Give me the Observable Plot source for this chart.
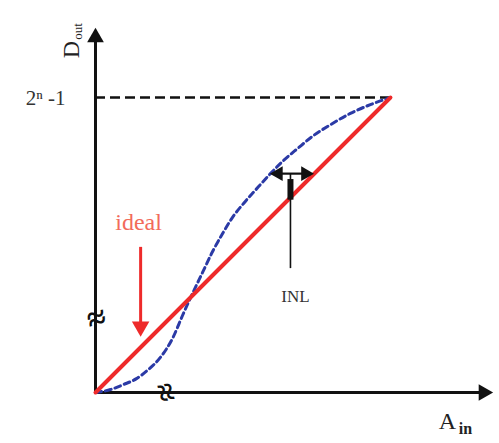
<!DOCTYPE html>
<html>
<head>
<meta charset="utf-8">
<script src="https://cdn.jsdelivr.net/npm/d3@7"></script>
<script src="https://cdn.jsdelivr.net/npm/@observablehq/plot@0.6"></script>
<style>
  html, body { margin: 0; padding: 0; background: #fff; }
  svg { display: block; }
</style>
</head>
<body>
<div id="chart"></div>
<script>
// Normalised transfer characteristic: input A_in (x) vs output D_out (y), full scale = 1
const axisMaxX = 1.346;
const axisMaxY = 1.234;
const fullScale = 1;

// ideal transfer line
const idealX = [0, 1];
const idealY = [0, 1];

const realX = [0, 0.051, 0.095, 0.139, 0.176, 0.220, 0.261, 0.295, 0.329, 0.363, 0.397, 0.431, 0.464, 0.502, 0.553, 0.593, 0.637, 0.685, 0.739, 0.797, 0.864, 0.932, 1];
const realY = [0, 0.010, 0.027, 0.047, 0.075, 0.119, 0.183, 0.261, 0.336, 0.407, 0.478, 0.539, 0.593, 0.641, 0.698, 0.742, 0.786, 0.827, 0.871, 0.908, 0.946, 0.976, 1];

// INL annotation
const inlY = 0.742;
const inlFrom = 0.593;
const inlTo = 0.739;
const inlStemX = 0.661;
const inlStemBottom = 0.42;
const inlLabel = {x: 0.678, y: 0.325, text: "INL"};

// "ideal" annotation
const idealLabel = {x: 0.146, y: 0.576, text: "ideal"};
const idealArrowX = 0.153;
const idealArrowTop = 0.492;
const idealArrowTip = 0.193;

// axis break positions
const breakY = 0.251;
const breakX = 0.237;

const fullScaleLabel = "2ⁿ -1";

const ideal = idealX.map((x, i) => ({x, y: idealY[i]}));
const real = realX.map((x, i) => ({x, y: realY[i]}));

const serif = "Liberation Serif, Times New Roman, serif";

const plot = Plot.plot({
  width: 499,
  height: 443,
  marginLeft: 95,
  marginRight: 7,
  marginTop: 28,
  marginBottom: 51,
  style: {fontFamily: serif, background: "white"},
  x: {domain: [0, axisMaxX], axis: null},
  y: {domain: [0, axisMaxY], axis: null},
  marks: [
    // full-scale dashed level
    Plot.ruleY([fullScale], {x1: 0, x2: fullScale, stroke: "#111", strokeWidth: 2.4, strokeDasharray: "10,5"}),
    // axes
    Plot.ruleX([0], {y1: 0, y2: axisMaxY - 0.03, stroke: "#111", strokeWidth: 3}),
    Plot.ruleY([0], {x1: 0, x2: axisMaxX - 0.03, stroke: "#111", strokeWidth: 3}),
    Plot.dot([{x: 0, y: axisMaxY}], {x: "x", y: "y", symbol: "triangle", r: 6.2, fill: "#111", stroke: "none", dy: 9}),
    Plot.dot([{x: axisMaxX, y: 0}], {x: "x", y: "y", symbol: "triangle", r: 6.2, fill: "#111", stroke: "none", rotate: 90, dx: -9}),
    // axis breaks
    Plot.text([{x: 0, y: breakY}], {x: "x", y: "y", text: () => "≈", fontSize: 34, fontWeight: "bold", fill: "#111", rotate: -15, dx: 1}),
    Plot.text([{x: breakX, y: 0}], {x: "x", y: "y", text: () => "≈", fontSize: 34, fontWeight: "bold", fill: "#111", rotate: 75}),
    // real curve
    Plot.line(real, {x: "x", y: "y", curve: "monotone-x", stroke: "#2b3aa6", strokeWidth: 3, strokeDasharray: "6,4"}),
    // ideal line
    Plot.line(ideal, {x: "x", y: "y", stroke: "#ee2a2a", strokeWidth: 4}),
    // INL double arrow
    Plot.ruleY([inlY], {x1: inlFrom + 0.03, x2: inlTo - 0.03, stroke: "#111", strokeWidth: 2.2}),
    Plot.dot([{x: inlFrom, y: inlY}], {x: "x", y: "y", symbol: "triangle", r: 5.5, fill: "#111", stroke: "none", rotate: -90, dx: 8}),
    Plot.dot([{x: inlTo, y: inlY}], {x: "x", y: "y", symbol: "triangle", r: 5.5, fill: "#111", stroke: "none", rotate: 90, dx: -8}),
    Plot.ruleX([inlStemX], {y1: inlStemBottom, y2: inlY, stroke: "#111", strokeWidth: 1.6}),
    Plot.ruleX([inlStemX], {y1: inlY - 0.09, y2: inlY - 0.02, stroke: "#111", strokeWidth: 6}),
    Plot.text([inlLabel], {x: "x", y: "y", text: "text", fontSize: 17, fill: "#333", fontFamily: serif}),
    // ideal label and arrow
    Plot.text([idealLabel], {x: "x", y: "y", text: "text", fontSize: 24, fill: "#f26b5b", fontFamily: serif}),
    Plot.ruleX([idealArrowX], {y1: idealArrowTop, y2: idealArrowTip + 0.04, stroke: "#ee2a2a", strokeWidth: 3}),
    Plot.dot([{x: idealArrowX, y: idealArrowTip}], {x: "x", y: "y", symbol: "triangle", r: 6.5, fill: "#ee2a2a", stroke: "none", rotate: 180, dy: -9}),
    // tick label for full scale
    Plot.text([{x: 0, y: fullScale}], {x: "x", y: "y", text: () => fullScaleLabel, textAnchor: "end", dx: -30, dy: 1, fontSize: 21, fill: "#333", fontFamily: serif}),
    // axis titles
    Plot.text([{x: 0, y: axisMaxY}], {x: "x", y: "y", text: () => "D", rotate: -90, dx: -24, dy: 21, fontSize: 24, fill: "#222", fontFamily: serif}),
    Plot.text([{x: 0, y: axisMaxY}], {x: "x", y: "y", text: () => "out", rotate: -90, dx: -18, dy: 3, fontSize: 13, fill: "#222", fontFamily: serif}),
    Plot.text([{x: axisMaxX, y: 0}], {x: "x", y: "y", text: () => "A", dx: -45, dy: 29, fontSize: 24, fill: "#222", fontFamily: serif}),
    Plot.text([{x: axisMaxX, y: 0}], {x: "x", y: "y", text: () => "in", dx: -27, dy: 36, fontSize: 16, fontWeight: "bold", fill: "#222", fontFamily: serif})
  ]
});
document.getElementById("chart").appendChild(plot);
</script>
</body>
</html>
